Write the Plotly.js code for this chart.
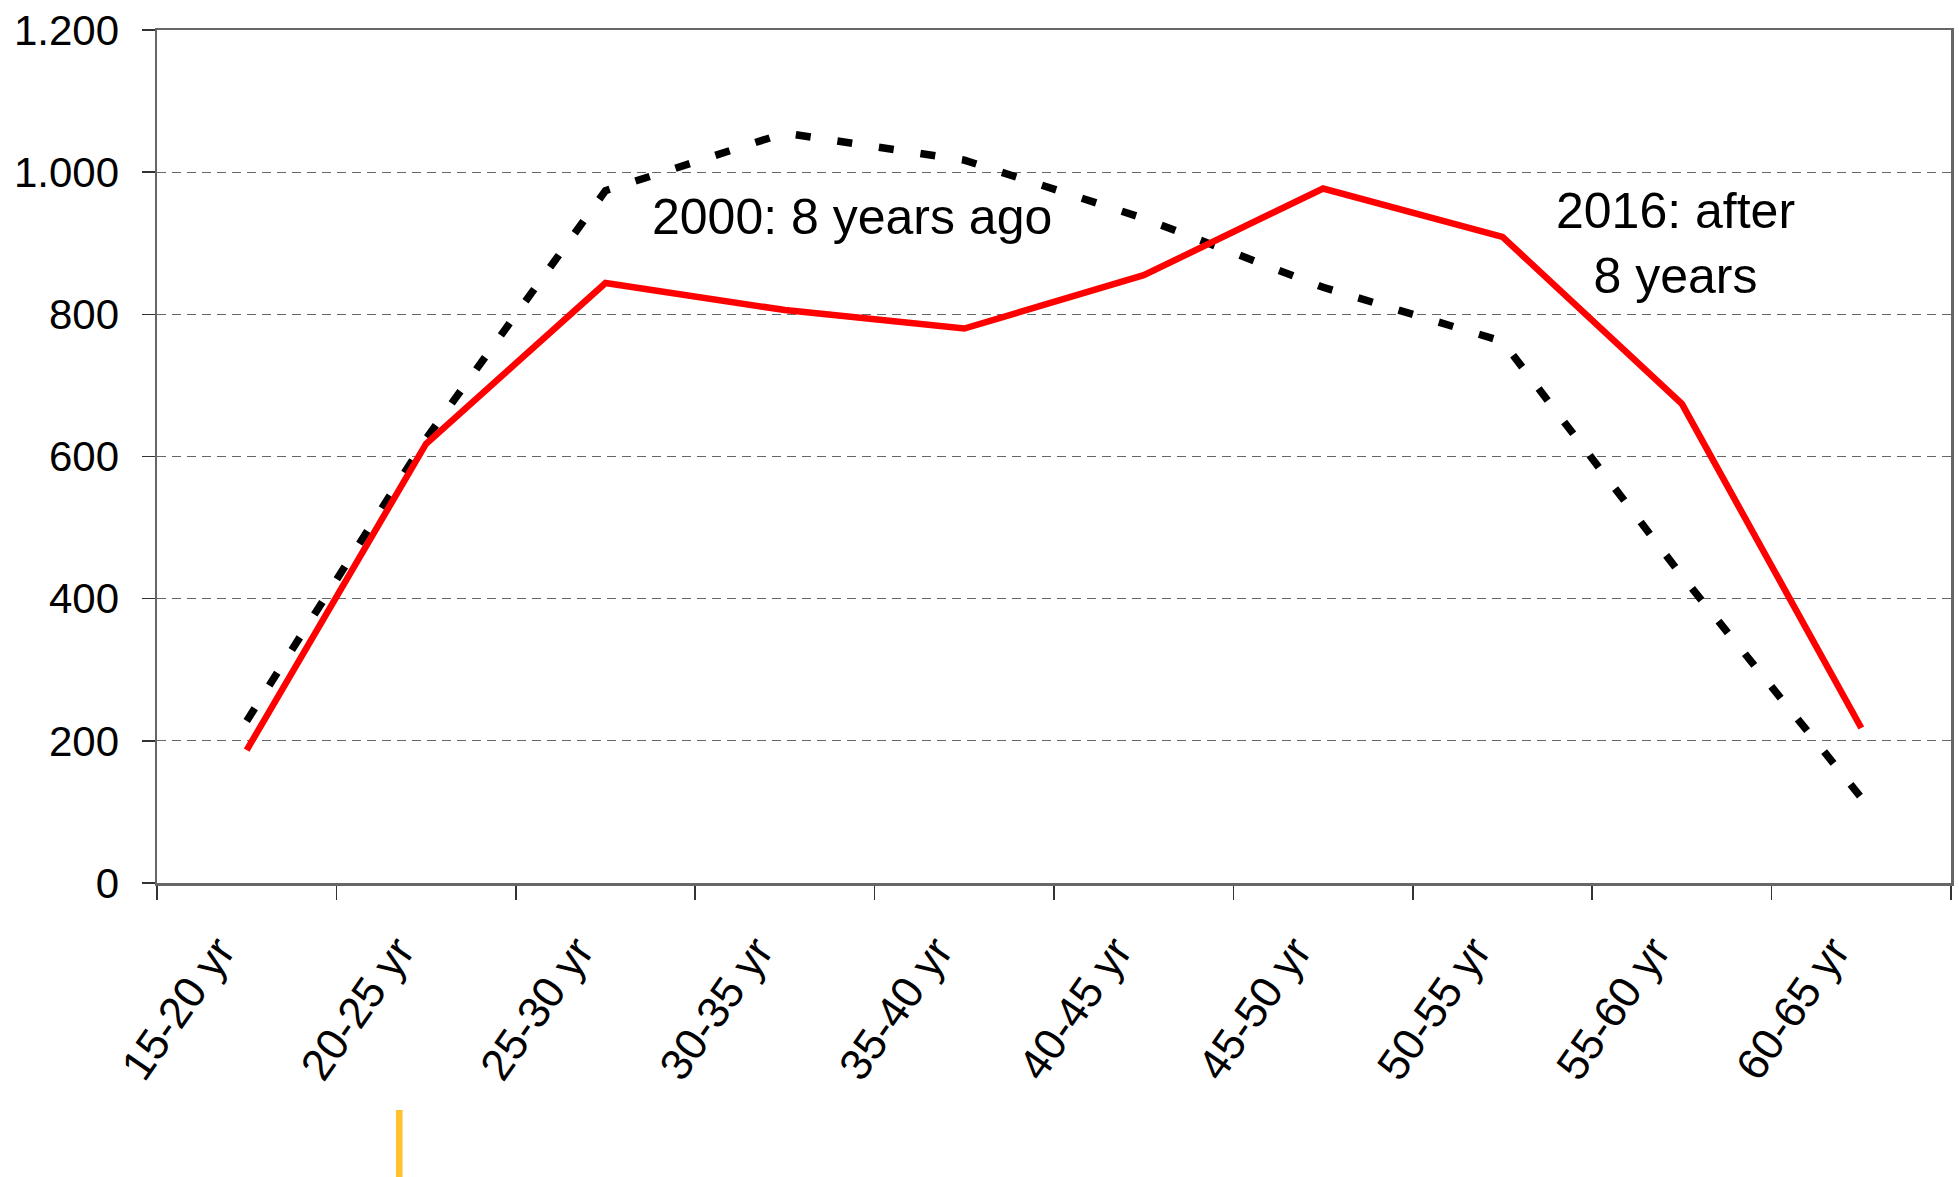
<!DOCTYPE html>
<html>
<head>
<meta charset="utf-8">
<script src="https://cdn.plot.ly/plotly-3.0.1.min.js"></script>
<style>html,body{margin:0;padding:0;background:#fff;}#chart{width:1959px;height:1177px;}</style>
</head>
<body>
<div id="chart"></div>
<script>
const categories = ['15-20 yr','20-25 yr','25-30 yr','30-35 yr','35-40 yr','40-45 yr','45-50 yr','50-55 yr','55-60 yr','60-65 yr'];
const values2016 = [187, 618, 844, 806, 780, 855, 977, 909, 674, 218];
const values2000 = [228, 625, 974, 1055, 1017, 935, 838, 762, 432, 120];
const yTicks = [0, 200, 400, 600, 800, 1000, 1200];
const label2000 = '2000: 8 years ago';
const label2016 = '2016: after<br>8 years';

const font = 'Liberation Sans, Arial, sans-serif';

const traces = [
  {
    x: categories, y: values2000, type: 'scatter', mode: 'lines',
    line: {color: '#000000', width: 7.5, dash: '15px,27px'},
    hoverinfo: 'x+y', showlegend: false
  },
  {
    x: categories, y: values2016, type: 'scatter', mode: 'lines',
    line: {color: '#FF0000', width: 6.5},
    hoverinfo: 'x+y', showlegend: false
  }
];

const layout = {
  width: 1959, height: 1177,
  margin: {l: 157, r: 8, t: 30, b: 294},
  paper_bgcolor: '#ffffff', plot_bgcolor: '#ffffff',
  separators: ',.',
  font: {family: font, color: '#000000', size: 40},
  showlegend: false,
  xaxis: {
    type: 'category',
    range: [-0.5, categories.length - 0.5],
    tickson: 'boundaries',
    ticks: 'outside', ticklen: 14, tickwidth: 1.5, tickcolor: '#333',
    tickangle: -55,
    ticklabelstandoff: 22,
    ticklabelshift: -28,
    tickfont: {family: font, size: 44, color: '#000'},
    showgrid: false, zeroline: false,
    showline: true, linecolor: '#666', linewidth: 2.5, mirror: true
  },
  yaxis: {
    range: [0, 1200],
    tickvals: yTicks,
    tickformat: ',d',
    ticks: 'outside', ticklen: 13, tickwidth: 1.5, tickcolor: '#333',
    ticklabelstandoff: 14,
    tickfont: {family: font, size: 42, color: '#000'},
    showgrid: true, gridcolor: '#666', gridwidth: 1, griddash: '9px,6px',
    zeroline: false,
    showline: true, linecolor: '#666', linewidth: 2.5, mirror: true
  },
  annotations: [
    {xref: 'paper', yref: 'paper', x: 0.3875, y: 0.781, text: label2000, showarrow: false,
     font: {family: font, size: 50, color: '#000'}, xanchor: 'center', yanchor: 'middle'},
    {xref: 'paper', yref: 'paper', x: 0.8463, y: 0.750, text: label2016, showarrow: false,
     font: {family: font, size: 50, color: '#000'}, xanchor: 'center', yanchor: 'middle'}
  ],
  shapes: [
    {type: 'rect', xref: 'paper', yref: 'paper', x0: 0.1332, x1: 0.1369, y0: -0.3447, y1: -0.2661,
     fillcolor: '#FFC12E', line: {width: 0}}
  ]
};

Plotly.newPlot('chart', traces, layout, {displayModeBar: false, staticPlot: true});
</script>
</body>
</html>
